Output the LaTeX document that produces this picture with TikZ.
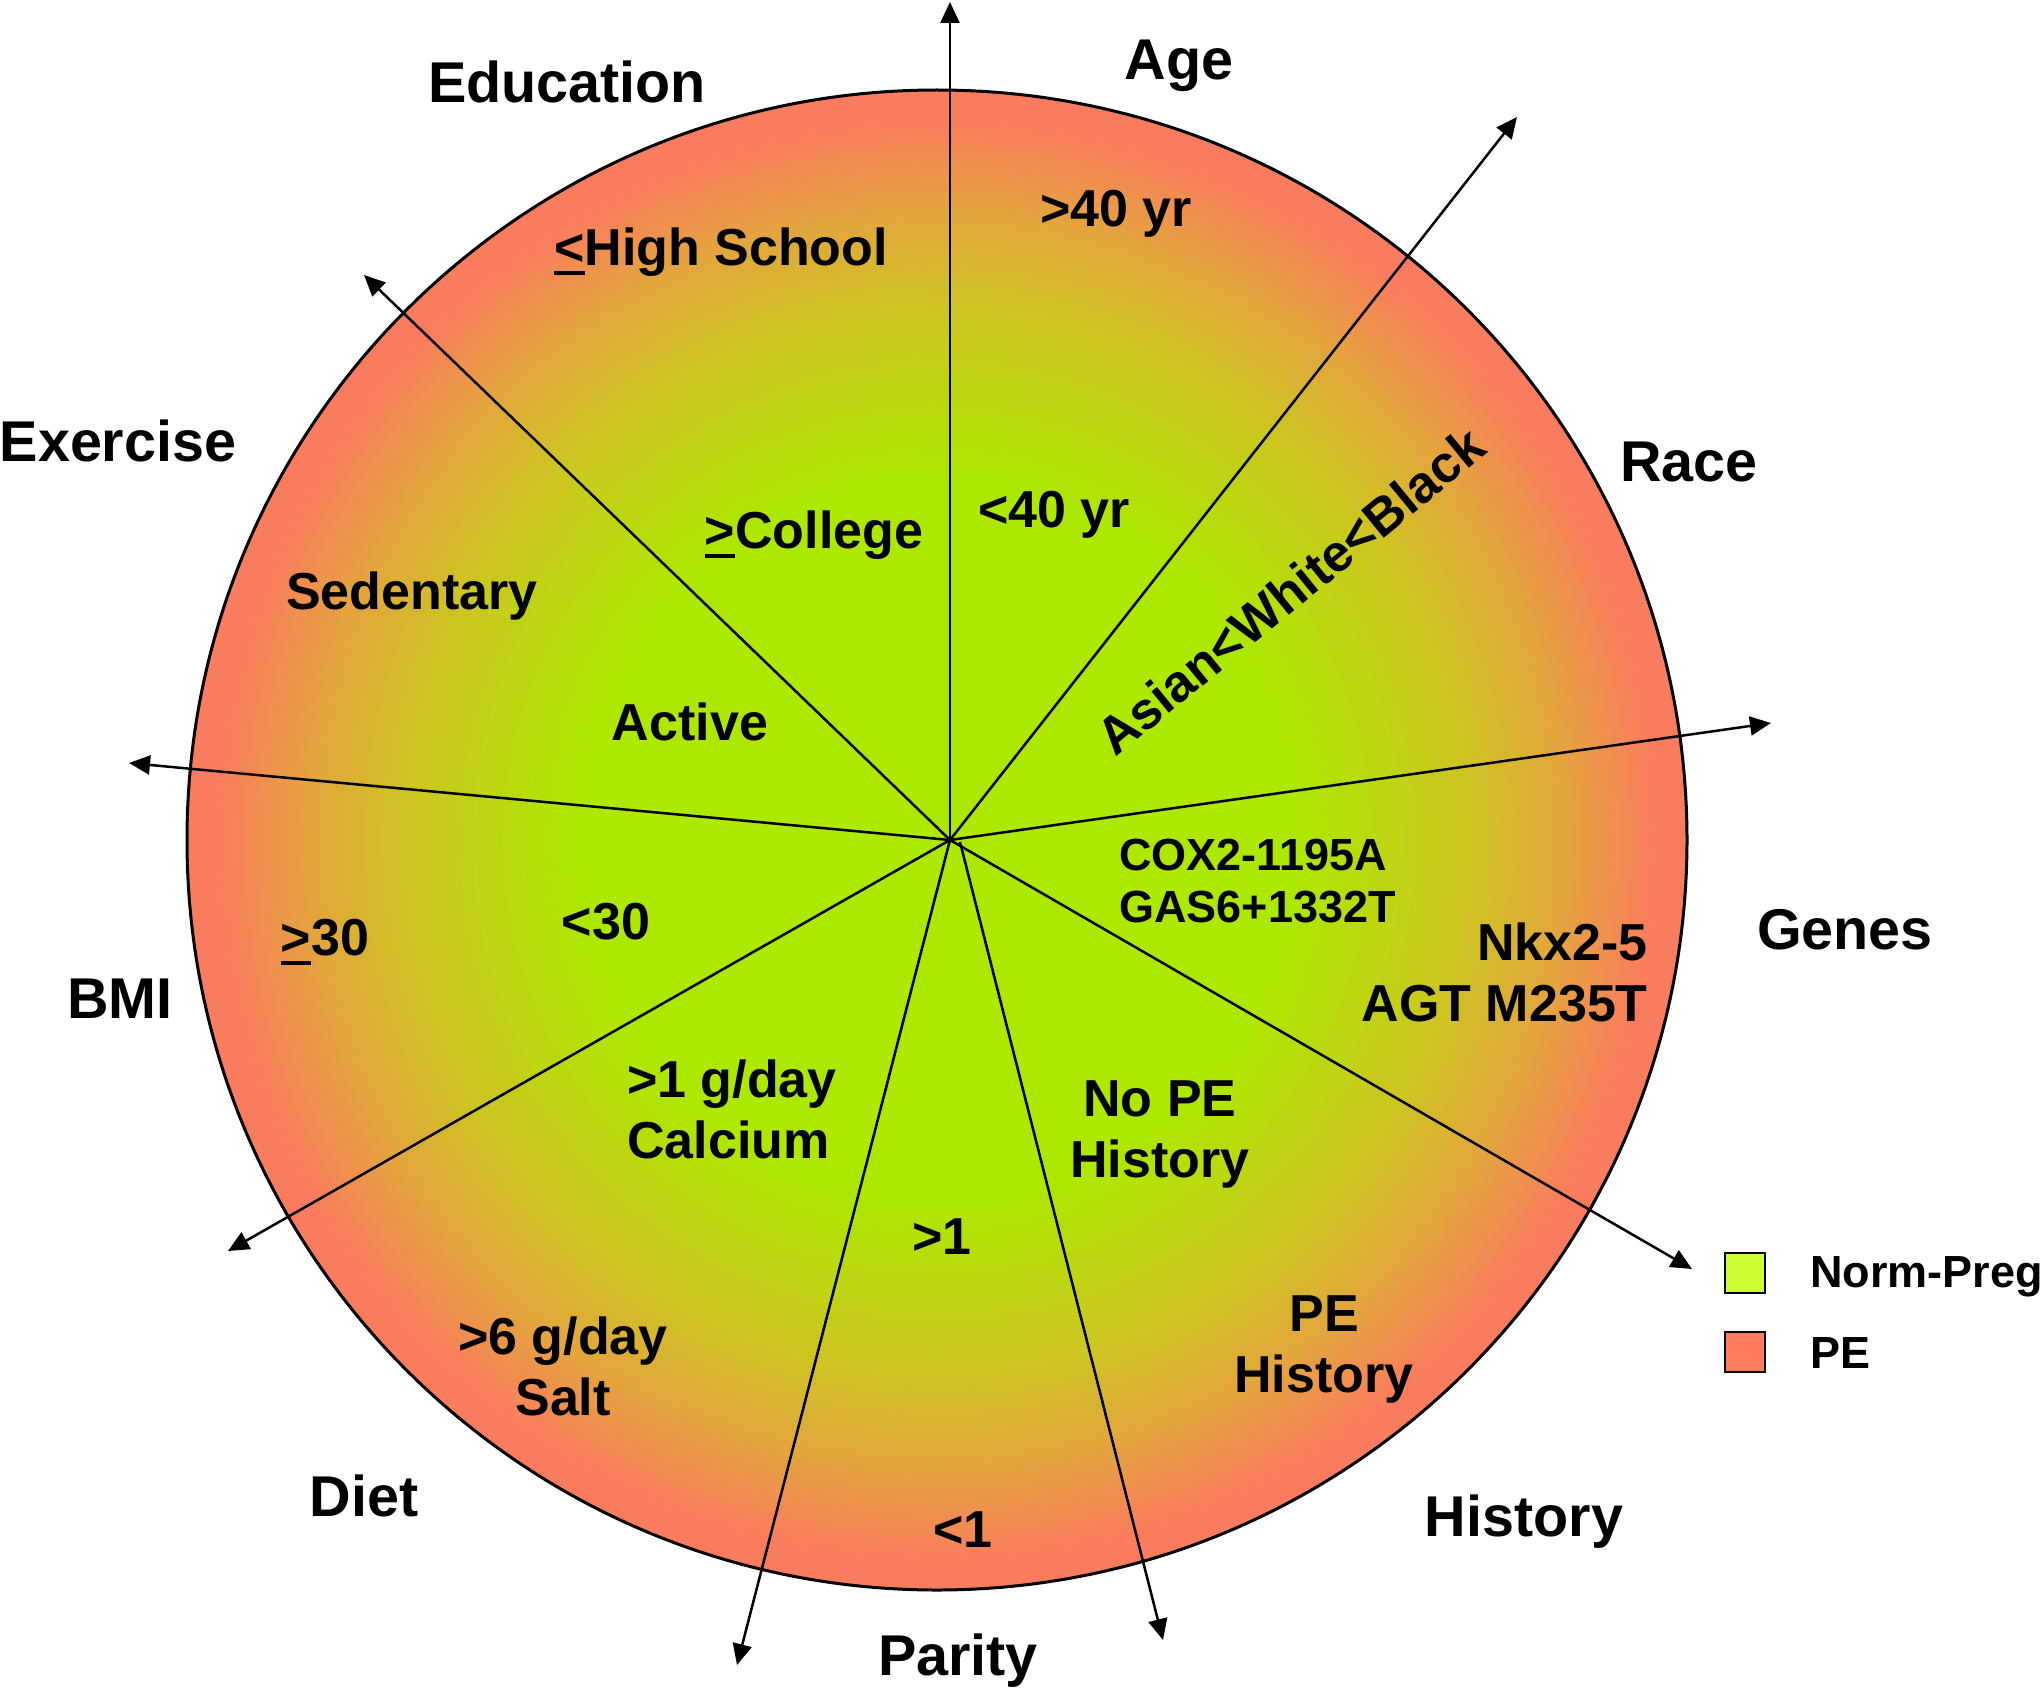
\documentclass[tikz,border=0pt]{standalone}
\usepackage{fontspec}
\setmainfont{Liberation Sans}
\usetikzlibrary{arrows.meta}
\definecolor{pgreen}{RGB}{172,232,0}
\definecolor{polive}{RGB}{204,198,32}
\definecolor{porange}{RGB}{228,164,62}
\definecolor{psalmon}{RGB}{250,124,94}
\definecolor{legG}{RGB}{204,255,51}
\definecolor{legP}{RGB}{255,124,92}
\pgfdeclareradialshading{pegrad}{\pgfpoint{0bp}{0bp}}{color(0bp)=(pgreen); color(12bp)=(pgreen); color(17.5bp)=(polive); color(21bp)=(porange); color(24bp)=(psalmon); color(25bp)=(psalmon); color(50bp)=(psalmon)}
\newcommand\usym[1]{\setbox0\hbox{#1}\rlap{\rule[-0.19em]{\wd0}{0.09em}}\box0\relax}
\begin{document}
\begin{tikzpicture}[x=1pt,y=-1pt,
 big/.style={font=\fontsize{57.5}{66}\selectfont\bfseries, inner sep=0pt, text height=41pt, text depth=0pt},
 mid/.style={font=\fontsize{52}{61}\selectfont\bfseries, inner sep=0pt, text height=37pt, text depth=0pt},
 midm/.style={font=\fontsize{52}{61}\selectfont\bfseries, inner sep=0pt},
 sml/.style={font=\fontsize{45}{52}\selectfont\bfseries, inner sep=0pt},
 axis/.style={line width=2.5pt, -{Triangle[length=21pt,width=19pt]}},
 legbox/.style={draw, line width=2pt, minimum size=40pt, inner sep=0pt}]
\useasboundingbox (0,0) rectangle (2040,1688);
\coordinate (C) at (937,840);
\shade[shading=pegrad] (C) circle[radius=750pt];
\draw[line width=3pt] (C) circle[radius=750pt];
% axes
\coordinate (O) at (950,840);
\coordinate (O2) at (960,842);
\coordinate (tAge) at (950,2);
\coordinate (tRace) at (1517,117);
\coordinate (tGenes) at (1771,723);
\coordinate (tHist) at (1692,1269);
\coordinate (tParR) at (1163,1640);
\coordinate (tParL) at (737,1665);
\coordinate (tDiet) at (228,1251);
\coordinate (tBMI) at (129,763);
\coordinate (tEdu) at (364,275);
\draw[axis] (O) -- (tAge);
\draw[axis] (O) -- (tRace);
\draw[axis] (O) -- (tGenes);
\draw[axis] (O) -- (tHist);
\draw[axis] (O2) -- (tParR);
\draw[axis] (O) -- (tParL);
\draw[axis] (O) -- (tDiet);
\draw[axis] (O) -- (tBMI);
\draw[axis] (O) -- (tEdu);
% outer labels
\node[big] (age) at (1179,59) {Age};
\node[big] (edu) at (567,82) {Education};
\node[big] (exe) at (118,441) {Exercise};
\node[big] (race) at (1689,461) {Race};
\node[big] (genes) at (1845,929) {Genes};
\node[big] (bmi) at (120,998) {BMI};
\node[big] (diet) at (364,1496) {Diet};
\node[big] (parity) at (958,1655) {Parity};
\node[big] (hist) at (1524,1516) {History};
% inner labels
\node[mid] (a1) at (1116,208) {>40 yr};
\node[mid] (e1) at (721,247) {\usym{<}High School};
\node[mid] (e2) at (814,530) {\usym{>}College};
\node[mid] (a2) at (1054,509) {<40 yr};
\node[mid] (x1) at (412,591) {Sedentary};
\node[mid] (x2) at (690,722) {Active};
\node[mid] (b1) at (325,937) {\usym{>}30};
\node[mid] (b2) at (606,921) {<30};
\node[midm, anchor=west, align=left] (d1) at (627,1109) {>1 g/day\\Calcium};
\node[midm, align=center] (h1) at (1160,1134) {No PE\\History};
\node[mid] (p1) at (942,1236) {>1};
\node[midm, align=center] (h2) at (1324,1349) {PE\\History};
\node[midm, align=center] (d2) at (563,1366) {>6 g/day\\Salt};
\node[mid] (p2) at (963,1529) {<1};
\node[midm, anchor=east, align=right] (g2) at (1648,972) {Nkx2-5\\AGT M235T};
\node[sml, anchor=west, align=left] (g1) at (1119,881) {COX2-1195A\\GAS6+1332T};
\node[mid, anchor=base, rotate=39.3] (r1) at (1302,605) {Asian<White<Black};
% legend
\node[legbox, fill=legG] (lg1) at (1745,1273) {};
\node[legbox, fill=legP] (lg2) at (1745,1352) {};
\node[sml, anchor=west, text height=32pt, text depth=0pt] (lt1) at (1810,1271) {Norm-Preg};
\node[sml, anchor=west, text height=32pt, text depth=0pt] (lt2) at (1810,1352) {PE};
\end{tikzpicture}
\end{document}
